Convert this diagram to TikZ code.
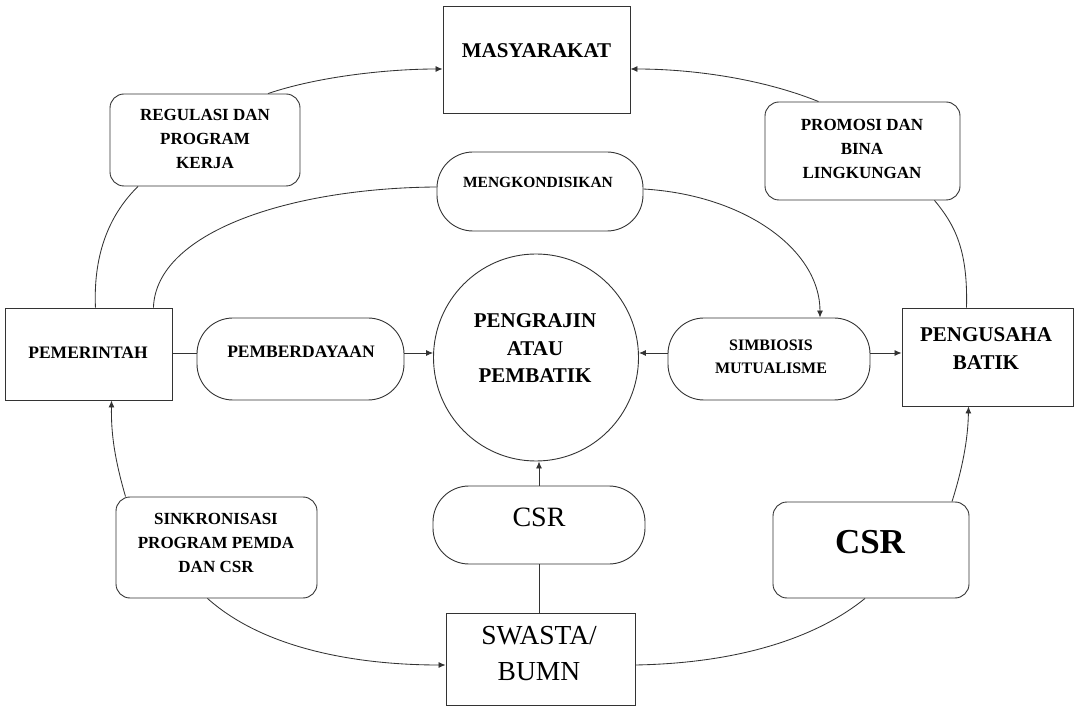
\documentclass[tikz,border=0pt]{standalone}
\usepackage{fontspec}
\setmainfont{Liberation Serif}
\usetikzlibrary{arrows.meta,shapes.geometric}
\begin{document}
\begin{tikzpicture}[x=1pt,y=-1pt,
  shp/.style={draw=black!80, line width=0.9pt, inner sep=0pt},
  sq/.style={shp, rectangle},
  rbox/.style={shp, rectangle, rounded corners=14pt},
  pill/.style={shp, rectangle, rounded corners=36pt},
  txt/.style={align=center, inner sep=0pt, font=\bfseries\fontsize{17}{24}\selectfont},
  con/.style={draw=black!80, line width=0.85pt},
  arr/.style={con, -{Latex[length=7pt,width=6pt]}},
]
\useasboundingbox (0,0) rectangle (1074,708);

% shapes
\node[sq, minimum width=187pt, minimum height=107pt] (masy) at (536.5,59.5) {};
\node[rbox, minimum width=190pt, minimum height=92pt] (reg) at (205,140) {};
\node[rbox, minimum width=195pt, minimum height=98pt] (prom) at (862.5,151) {};
\node[pill, minimum width=206pt, minimum height=79pt] (meng) at (540,191.5) {};
\node[sq, minimum width=167pt, minimum height=92pt] (pem) at (88.5,354) {};
\node[pill, minimum width=207pt, minimum height=82pt] (pemb) at (300.5,359) {};
\node[shp, ellipse, minimum width=205pt, minimum height=207pt] (circ) at (536,357.5) {};
\node[pill, minimum width=202pt, minimum height=82pt] (simb) at (769,359) {};
\node[sq, minimum width=171pt, minimum height=98pt] (peng) at (987.5,357) {};
\node[pill, minimum width=212pt, minimum height=78pt] (csrm) at (539,525) {};
\node[rbox, minimum width=201pt, minimum height=101pt] (sink) at (216.5,547.5) {};
\node[rbox, minimum width=196pt, minimum height=96pt] (csrr) at (871,550) {};
\node[sq, minimum width=189pt, minimum height=92pt] (swa) at (540.5,659) {};

% texts
\node[txt, font=\bfseries\fontsize{21}{27}\selectfont] (masyt) at (536.5,51) {MASYARAKAT};
\node[txt] (regt) at (205,139) {REGULASI DAN\\PROGRAM\\KERJA};
\node[txt] (promt) at (862,149) {PROMOSI DAN\\BINA\\LINGKUNGAN};
\node[txt, font=\bfseries\fontsize{15.5}{20}\selectfont] (mengt) at (538,182.5) {MENGKONDISIKAN};
\node[txt, font=\bfseries\fontsize{17.5}{24}\selectfont] (pemt) at (88,353) {PEMERINTAH};
\node[txt, font=\bfseries\fontsize{17.5}{24}\selectfont] (pembt) at (301,352) {PEMBERDAYAAN};
\node[txt, font=\bfseries\fontsize{21}{27.5}\selectfont] (circt) at (535,348.5) {PENGRAJIN\\ATAU\\PEMBATIK};
\node[txt, font=\bfseries\fontsize{16}{23}\selectfont] (simbt) at (771,356.5) {SIMBIOSIS\\MUTUALISME};
\node[txt, font=\bfseries\fontsize{21}{28}\selectfont] (pengt) at (986,349) {PENGUSAHA\\BATIK};
\node[txt, font=\fontsize{28}{34}\selectfont] (csrmt) at (539,517) {CSR};
\node[txt] (sinkt) at (216,543) {SINKRONISASI\\PROGRAM PEMDA\\DAN CSR};
\node[txt, font=\bfseries\fontsize{35}{40}\selectfont] (csrrt) at (870,542) {CSR};
\node[txt, font=\fontsize{27.5}{36}\selectfont] (swat) at (539,654) {SWASTA/\\BUMN};

% connectors: top ring
\draw[arr] ([xshift=63pt]reg.north) .. controls (320,76) and (390,69) .. (masy.west |- 0,69);
\draw[con] ([xshift=-77pt]pem.north east) .. controls (93,250) and (112,212) .. ([xshift=-67pt]reg.south);
\draw[arr] ([xshift=-44pt]prom.north) .. controls (760,78) and (690,69) .. (masy.east |- 0,69);
\draw[con] ([xshift=-21pt]peng.north) .. controls (968,250) and (955,225) .. ([xshift=72pt]prom.south);

% inner arc through MENGKONDISIKAN
\draw[con] ([xshift=-19pt]pem.north east) .. controls (156,232) and (290,188) .. (meng.west |- 0,187);
\draw[arr] (meng.east |- 0,189) .. controls (745,195) and (820,250) .. ([xshift=51pt]simb.north);

% middle row
\draw[con] (pem.east |- 0,353) -- (pemb.west |- 0,353);
\draw[arr] (pemb.east |- 0,353) -- (circ.west |- 0,353);
\draw[arr] (simb.west |- 0,353) -- (circ.east |- 0,353);
\draw[arr] (simb.east |- 0,353) -- (peng.west |- 0,353);

% vertical centre
\draw[con] (csrm.south |- swa.north) -- (csrm.south);
\draw[arr] (csrm.north) -- (csrm.north |- circ.south);

% bottom ring
\draw[arr] ([xshift=-9pt]sink.south) .. controls (265,650) and (360,665) .. (swa.west |- 0,665);
\draw[arr] ([xshift=-91pt]sink.north) .. controls (115,460) and (111,435) .. ([xshift=107pt]pem.south west);
\draw[con] (swa.east |- 0,665) .. controls (745,663) and (820,635) .. ([xshift=-6pt]csrr.south);
\draw[arr] ([xshift=81pt]csrr.north) .. controls (962,470) and (968,440) .. ([xshift=-19pt]peng.south);
\end{tikzpicture}
\end{document}
